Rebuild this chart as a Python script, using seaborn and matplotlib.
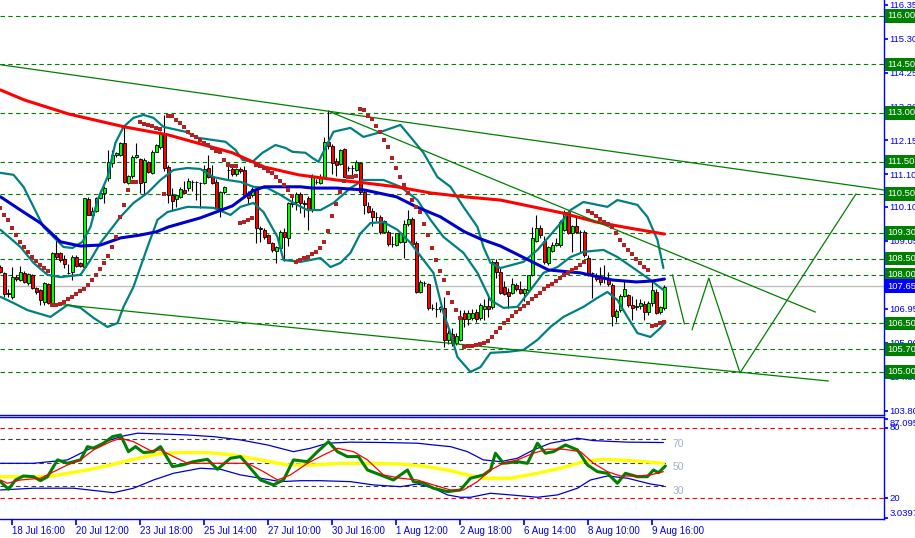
import numpy as np
import matplotlib
matplotlib.use("Agg")
import matplotlib.pyplot as plt
import seaborn as sns
from matplotlib.transforms import blended_transform_factory

# ---------------- price bars (one entry per bar, index = bar number) ----------------
opens = [
    108.25, 108.06, 107.45, 107.33, 107.94, 107.84, 108.06, 107.74, 107.99, 107.58,
    107.53, 107.15, 107.71, 107.12, 108.68, 108.66, 108.48, 108.06, 108.10, 108.54,
    108.37, 108.25, 110.35, 109.85, 109.98, 110.36, 110.52, 110.98, 111.46, 111.70,
    111.70, 112.06, 110.85, 111.05, 111.65, 111.57, 110.88, 111.49, 111.15, 111.80,
    111.96, 112.39, 111.34, 110.46, 110.33, 110.41, 110.62, 110.67, 110.87, 110.87,
    110.83, 110.83, 111.29, 111.01, 110.88, 110.05, 110.57, 111.24, 111.26, 111.11,
    111.26, 111.24, 110.48, 110.46, 110.62, 109.44, 109.40, 109.23, 108.97, 108.74,
    108.82, 109.33, 109.13, 110.26, 110.26, 110.50, 110.23, 110.36, 110.00, 110.87,
    110.85, 111.03, 112.11, 111.98, 111.52, 111.42, 111.88, 111.29, 111.29, 111.24,
    111.44, 110.57, 110.13, 109.97, 109.80, 109.80, 109.33, 109.33, 108.95, 108.92,
    109.02, 109.02, 109.57, 109.72, 108.99, 107.48, 107.74, 107.71, 106.96, 106.94,
    106.94, 106.96, 106.00, 106.16, 105.88, 106.00, 106.81, 106.65, 106.68, 106.86,
    106.68, 106.95, 107.05, 107.00, 108.41, 108.10, 107.63, 107.48, 107.45, 107.68,
    107.55, 107.43, 107.53, 107.99, 109.03, 109.46, 109.05, 108.37, 108.74, 108.92,
    108.92, 109.38, 109.95, 109.30, 109.51, 109.33, 109.33, 108.51, 108.05, 107.99,
    107.89, 107.86, 107.86, 107.68, 106.71, 106.91, 107.34, 107.37, 107.07, 107.02,
    107.04, 107.10, 106.86, 107.12, 107.48, 106.86, 106.96,
]
highs = [
    108.30, 108.10, 107.55, 108.25, 108.00, 108.27, 108.12, 108.05, 108.02, 107.62,
    107.56, 107.79, 107.75, 108.72, 109.23, 108.70, 108.61, 108.35, 108.61, 108.60,
    108.40, 110.38, 110.40, 110.10, 110.40, 110.62, 110.74, 111.86, 111.86, 111.80,
    112.10, 112.58, 111.08, 111.70, 112.06, 111.62, 111.60, 111.52, 111.85, 112.05,
    112.45, 112.94, 111.38, 110.67, 110.50, 110.70, 110.90, 111.00, 110.92, 110.90,
    110.88, 111.40, 111.70, 111.40, 110.95, 110.60, 110.75, 111.40, 111.40, 111.30,
    111.32, 111.37, 110.60, 110.70, 110.68, 109.50, 109.45, 109.26, 109.00, 108.90,
    109.40, 109.45, 110.26, 110.40, 110.55, 110.55, 110.30, 110.45, 111.10, 110.95,
    111.10, 112.25, 113.08, 112.05, 111.60, 111.90, 111.92, 111.35, 111.40, 111.55,
    111.50, 110.62, 110.25, 110.05, 109.95, 109.85, 109.70, 109.38, 109.20, 109.30,
    109.32, 109.70, 110.00, 109.80, 109.05, 107.85, 107.80, 107.75, 107.10, 107.15,
    107.05, 107.30, 106.30, 106.35, 106.20, 106.90, 106.90, 106.90, 106.95, 106.95,
    107.12, 107.25, 107.40, 108.45, 108.50, 108.20, 107.80, 107.60, 107.90, 107.75,
    107.80, 107.60, 108.00, 109.47, 109.84, 109.55, 109.20, 108.90, 109.00, 109.15,
    109.70, 110.00, 110.00, 109.55, 109.80, 109.40, 109.40, 108.60, 108.10, 108.05,
    108.25, 108.30, 108.10, 107.75, 106.95, 107.40, 107.80, 107.42, 107.35, 107.25,
    107.25, 107.20, 107.20, 107.80, 107.55, 107.05, 107.68,
]
lows = [
    108.05, 107.32, 107.30, 107.24, 107.80, 107.80, 107.75, 107.70, 107.55, 107.42,
    107.07, 107.07, 107.10, 107.10, 108.50, 108.40, 108.20, 108.04, 107.84, 108.25,
    108.25, 108.22, 109.85, 109.70, 109.95, 110.33, 110.21, 110.90, 111.34, 111.65,
    111.68, 110.85, 110.80, 111.00, 111.60, 110.52, 110.47, 111.15, 111.10, 111.78,
    111.90, 111.20, 110.21, 110.00, 110.10, 110.38, 110.50, 110.60, 110.60, 110.31,
    110.05, 110.80, 111.00, 110.80, 110.05, 109.80, 110.50, 110.95, 111.05, 111.05,
    111.15, 110.40, 110.20, 110.40, 108.98, 109.00, 109.10, 108.98, 108.70, 108.38,
    108.78, 108.43, 108.90, 110.10, 110.00, 109.90, 109.80, 109.40, 109.95, 110.80,
    110.80, 111.00, 111.90, 111.10, 111.05, 111.38, 111.01, 111.20, 111.05, 111.20,
    110.50, 109.87, 109.90, 109.50, 109.65, 109.25, 109.30, 108.90, 108.85, 108.88,
    108.98, 108.53, 109.50, 108.90, 107.45, 107.45, 107.65, 106.90, 106.90, 106.70,
    106.85, 105.78, 105.85, 105.80, 105.82, 105.95, 106.40, 106.45, 106.60, 106.55,
    106.62, 106.60, 106.70, 106.95, 107.90, 107.40, 107.38, 106.97, 107.40, 107.50,
    107.40, 107.20, 107.50, 107.95, 109.00, 109.15, 108.35, 108.30, 108.70, 108.88,
    108.85, 109.35, 109.25, 108.70, 109.30, 108.72, 108.55, 107.95, 107.27, 107.80,
    107.70, 107.75, 107.65, 106.42, 106.55, 106.85, 107.30, 107.00, 106.60, 106.90,
    106.95, 106.60, 106.75, 107.05, 106.80, 106.80, 106.90,
]
closes = [
    108.10, 107.40, 107.40, 107.94, 107.86, 108.10, 107.79, 108.02, 107.58, 107.48,
    107.22, 107.74, 107.14, 108.68, 108.56, 108.46, 108.35, 108.06, 108.56, 108.28,
    108.28, 110.36, 109.85, 109.98, 110.36, 110.54, 110.67, 111.49, 111.70, 111.77,
    112.06, 110.88, 111.05, 111.65, 111.70, 110.85, 111.55, 111.19, 111.80, 112.01,
    112.39, 111.29, 110.46, 110.29, 110.46, 110.64, 110.54, 110.90, 110.87, 110.86,
    110.83, 111.26, 111.01, 110.85, 110.05, 110.57, 110.70, 111.24, 111.11, 111.26,
    111.20, 110.46, 110.36, 110.64, 109.44, 109.42, 109.16, 108.99, 108.76, 108.87,
    109.31, 109.16, 110.23, 110.18, 110.50, 110.21, 110.18, 110.00, 111.01, 110.87,
    111.03, 112.11, 111.98, 111.44, 111.39, 111.85, 111.01, 111.29, 111.29, 111.49,
    110.57, 110.15, 109.95, 109.80, 109.80, 109.33, 109.66, 108.95, 108.95, 109.28,
    109.28, 109.57, 109.74, 108.95, 107.48, 107.79, 107.74, 106.96, 106.96, 106.94,
    107.00, 106.00, 106.19, 105.90, 106.11, 106.70, 106.65, 106.81, 106.83, 106.65,
    107.07, 107.05, 106.95, 108.41, 108.10, 107.43, 107.40, 107.34, 107.72, 107.55,
    107.43, 107.56, 107.99, 109.13, 109.44, 109.24, 108.41, 108.85, 108.92, 108.97,
    109.64, 109.95, 109.30, 109.51, 109.33, 109.33, 108.61, 108.03, 108.05, 107.86,
    107.79, 107.86, 107.72, 106.73, 106.89, 107.34, 107.56, 107.07, 106.99, 107.05,
    107.14, 106.86, 107.14, 107.53, 106.81, 107.01, 107.63,
]
# parabolic SAR, one dot per bar
sar = [
    110.05, 109.85, 109.69, 109.46, 109.23, 109.02, 108.87, 108.71, 108.56, 108.42,
    108.30, 108.20, 108.12, 107.07, 107.07, 107.10, 107.17, 107.24, 107.32, 107.41,
    107.49, 107.55, 107.68, 107.84, 108.01, 108.17, 108.37, 108.59, 108.87, 109.18,
    109.80, 110.16, 110.62, 110.88, 110.88, 112.73, 112.66, 112.63, 112.60, 112.55,
    112.50, 110.50, 112.92, 112.92, 112.79, 112.68, 112.58, 112.42, 112.32, 112.25,
    112.17, 112.07, 112.01, 111.91, 111.84, 111.78, 111.55, 111.40, 111.36, 111.36,
    109.59, 109.63, 109.70, 109.75, 111.40, 111.36, 111.29, 111.22, 111.16, 111.03,
    110.91, 110.78, 110.62, 110.45, 108.41, 108.46, 108.51, 108.56, 108.64, 108.69,
    108.84, 109.02, 109.35, 109.81, 110.19, 110.57, 110.90, 111.02, 111.02, 111.05,
    113.12, 113.08, 112.91, 112.81, 112.60, 112.42, 112.17, 111.94, 111.60, 111.29,
    111.01, 110.78, 110.52, 110.31, 110.09, 109.95, 109.57, 109.23, 108.82, 108.46,
    108.13, 107.84, 107.45, 107.17, 106.91, 106.66, 105.78, 105.80, 105.81, 105.83,
    105.86, 105.90, 105.97, 106.07, 106.22, 106.36, 106.50, 106.62, 106.74, 106.85,
    106.95, 107.05, 107.14, 107.25, 107.35, 107.45, 107.55, 107.64, 107.73, 107.82,
    107.90, 107.98, 108.06, 108.14, 108.22, 108.30, 108.40, 109.97, 109.90, 109.82,
    109.72, 109.64, 109.56, 109.49, 109.28, 109.08, 108.92, 108.77, 108.65, 108.49,
    108.36, 108.23, 108.15, 106.42, 106.45, 106.50, 106.53,
]

# ---------------- overlays (bar position, price) ----------------
ma_red_x = [0, 6, 17, 31, 42, 58, 66, 74.5, 84, 91, 99, 107.5, 116, 125, 140.5, 149, 157, 166]
ma_red_y = [113.71, 113.40, 112.97, 112.57, 112.32, 111.77, 111.33, 111.09, 110.93, 110.84,
            110.72, 110.53, 110.41, 110.31, 109.91, 109.63, 109.45, 109.26]

ma_blue_x = [0, 5, 10, 15, 20, 25, 30, 35, 39, 42, 50, 58, 63, 66, 75, 78, 84,
             91, 99, 104, 110, 116, 120, 125, 132, 137, 145, 153, 159, 163, 166]
ma_blue_y = [110.41, 110.00, 109.60, 109.02, 108.89, 108.92, 109.14, 109.23, 109.33, 109.48,
             109.76, 110.13, 110.59, 110.72, 110.72, 110.68, 110.68, 110.62, 110.41, 110.10,
             109.79, 109.33, 109.11, 108.89, 108.46, 108.15, 108.06, 107.84, 107.78, 107.81, 107.87]

bb_up_x = [0, 3.25, 5.75, 8.25, 10.75, 13.25, 15.75, 18, 20.5, 22.5,
           24.25, 26.75, 28.75, 30.75, 33.25, 35.75, 38.25, 40.75, 46.25, 49.5,
           56.25, 58.75, 60.5, 63, 65.5, 68.75, 71.25, 73, 76.25, 78,
           79.5, 83.25, 87.5, 90.75, 94.25, 100, 102.5, 105.75, 109.25, 112.5,
           115.75, 119.25, 120.75, 122.5, 125, 130.75, 134.25, 139.25, 142.5, 145.75,
           151.75, 154.25, 159.25, 161.75, 164.25, 165.75]
bb_up_y = [111.15, 111.09, 110.72, 110.10, 109.48, 109.17, 108.86, 108.83, 109.02, 109.48,
           110.31, 111.02, 112.08, 112.57, 112.85, 112.94, 112.85, 112.57, 112.42, 112.23,
           112.11, 111.86, 111.55, 111.49, 111.77, 112.01, 111.92, 111.80, 111.77, 111.61,
           111.49, 112.42, 112.54, 112.26, 112.38, 112.63, 112.26, 111.77, 111.02, 110.72,
           110.10, 109.48, 108.86, 108.37, 108.21, 108.40, 108.77, 109.48, 110.00, 110.25,
           110.10, 110.31, 110.16, 109.79, 109.08, 108.21]

bb_mid_x = [0, 5, 8.25, 11.75, 15, 20, 22.5, 25, 30, 33.25,
            36.75, 40, 43.25, 46.75, 50, 53.25, 56.75, 60, 63.25, 66.75,
            70, 73.25, 76.75, 80, 83.25, 87.5, 90.75, 95.75, 100, 104.25,
            107.5, 110.75, 115.75, 119.25, 122.5, 125.75, 129.25, 132.5, 135.75, 139.25,
            142.5, 145.75, 150.75, 154.25, 158.25, 162.5, 165.75]
bb_mid_y = [109.39, 108.86, 108.37, 108.00, 107.93, 108.00, 108.46, 108.99, 109.79, 110.22,
            110.53, 110.93, 111.24, 111.30, 111.27, 111.02, 110.93, 110.87, 110.72, 110.68,
            110.47, 110.22, 110.00, 110.00, 110.22, 110.68, 110.93, 110.93, 110.72, 110.31,
            109.70, 109.17, 108.68, 108.06, 107.22, 106.98, 107.01, 107.53, 108.06, 108.24,
            108.55, 108.71, 108.77, 108.55, 108.21, 107.84, 107.53]

bb_lo_x = [0, 3.25, 6.75, 12.5, 16.75, 20, 23.25, 26.75, 29.25, 30.75,
           33.25, 36.75, 39.25, 41.75, 46.75, 53.25, 57.5, 60, 63.25, 65.75,
           69.25, 70.75, 75, 80, 82.5, 85, 87.5, 90, 92.5, 95.75,
           99.25, 102.5, 105.75, 108.25, 110.75, 112.5, 114.25, 117.5, 120, 122.5,
           126.75, 130.75, 134.25, 137.5, 140.75, 145.75, 149.25, 151.75, 154.25, 156.75,
           159.25, 162.5, 165, 166.25]
bb_lo_y = [107.32, 107.13, 106.91, 106.70, 107.07, 106.98, 106.67, 106.39, 106.51, 107.01,
           107.63, 108.86, 109.70, 109.94, 110.10, 110.07, 109.85, 110.10, 110.22, 109.94,
           109.17, 108.46, 108.40, 108.52, 108.24, 108.37, 108.68, 109.28, 109.60, 109.63,
           109.39, 108.99, 108.46, 108.06, 106.82, 106.20, 105.46, 105.00, 105.15, 105.59,
           105.62, 105.68, 105.99, 106.39, 106.70, 107.01, 107.29, 107.47, 107.22, 106.70,
           106.20, 106.08, 106.36, 106.54]

# hand drawn trend lines and projection
trend_top_x, trend_top_y = [0, 221], [114.49, 110.62]
trend_mid_x, trend_mid_y = [82.5, 203.75], [113.03, 106.85]
trend_low_x, trend_low_y = [13.75, 207], [107.10, 104.72]
proj_a_x, proj_a_y = [168, 171], [108.00, 106.48]
proj_b_x, proj_b_y = [172.9, 177.1, 184.9, 213.9], [106.30, 107.90, 104.97, 110.50]

levels = [116.00, 114.50, 113.00, 111.50, 110.50, 109.30, 108.50, 108.00, 106.50, 105.70, 105.00]
last_price = 107.65
price_ticks = [116.35, 115.30, 114.25, 113.20, 112.15, 111.10, 110.10, 109.05,
               106.95, 105.90, 104.85, 103.80]

# ---------------- oscillator panel ----------------
osc_x = [0, 2, 3.75, 5.75, 8.25, 10, 11.75, 14.25, 16.75, 20,
         21.75, 23.25, 25.75, 28, 30, 32, 33.75, 35.75, 38.25, 40,
         43, 45.5, 48.25, 51.75, 54.25, 57.5, 60, 62.5, 65, 68.25,
         70.75, 73.25, 76.75, 79.25, 82, 84.25, 86.75, 89.5, 91.75, 95,
         98.25, 101.75, 103.25, 105.75, 108.25, 111.75, 115, 117.5, 120.75, 122.5,
         123.75, 125.75, 129.25, 131.75, 134.25, 136.25, 138.25, 141.25, 144.25, 146.75,
         149.25, 151.75, 154.25, 156.25, 159.25, 161.75, 163.25, 164.5, 166.25]
osc_y = [34.1, 27.6, 35.5, 38.9, 38.3, 34.9, 38.3, 52.6, 49.7, 52.6,
         63.9, 62.5, 66.8, 72.4, 73.8, 59.6, 63.9, 58.8, 59.6, 63.9,
         46.9, 48.3, 51.1, 53.1, 44.6, 54.0, 55.4, 45.5, 35.5, 31.3,
         35.5, 52.6, 51.1, 59.6, 68.1, 59.6, 55.4, 55.4, 44.0, 39.8,
         35.5, 44.0, 34.1, 32.7, 28.5, 25.6, 27.0, 37.0, 39.8, 44.0,
         58.3, 49.7, 51.1, 49.7, 66.8, 58.3, 59.6, 65.3, 61.1, 48.3,
         42.6, 41.2, 32.7, 41.2, 38.3, 38.3, 44.0, 41.7, 47.4]

sig_x = [0, 1.75, 5, 10, 12.5, 16.75, 20, 23.25, 27.5, 30,
         33.25, 37.5, 40, 43.25, 46.75, 51.75, 56.75, 61.75, 65.75, 69.25,
         72.5, 76.75, 80.75, 84.25, 88.25, 91.75, 95.75, 100, 104.25, 108.25,
         112.5, 115.75, 119.25, 122.5, 125.75, 129.25, 133.25, 136.75, 140.75, 145,
         148.25, 151.75, 155, 159.25, 162.5, 165.75]
sig_y = [35.5, 32.7, 35.5, 37.0, 41.2, 48.3, 52.6, 61.1, 68.1, 71.0,
         68.1, 60.5, 61.1, 55.4, 49.7, 49.7, 49.7, 49.7, 42.6, 35.5,
         39.8, 49.7, 56.8, 62.5, 59.6, 52.6, 39.8, 37.0, 35.5, 31.3,
         27.0, 27.0, 34.1, 44.0, 49.7, 52.6, 58.3, 61.7, 61.7, 59.6,
         49.7, 42.6, 38.9, 38.9, 39.8, 42.6]

slow_x = [0, 5, 11.75, 16.75, 21.75, 27.5, 33.25, 39.25, 45, 51.75,
          58.25, 65, 71.75, 78.25, 85, 91.75, 100, 105.75, 111.75, 116.75,
          120.75, 127.5, 134.25, 140, 145.75, 150.75, 157.5, 165.75]
slow_y = [38.3, 38.3, 38.3, 41.2, 44.0, 48.3, 53.1, 57.6, 58.8, 58.8,
          56.8, 52.6, 48.3, 48.3, 49.7, 49.7, 49.1, 47.4, 44.0, 39.8,
          37.0, 37.0, 41.2, 45.5, 51.1, 53.1, 52.0, 49.7]

band_up_x = [0, 8.25, 16.75, 21.75, 27.5, 30.75, 34.25, 40, 46.75, 53.25,
             60, 66.75, 73.25, 77.5, 81.75, 87.5, 95.75, 104.25, 108.25, 112.5,
             116.75, 120.75, 125, 129.25, 133.25, 137.5, 144.25, 148.25, 156.75, 165.75]
band_up_y = [49.7, 49.7, 52.6, 61.1, 69.6, 73.0, 75.3, 74.7, 73.8, 72.4,
             69.6, 65.3, 59.6, 62.5, 66.8, 67.7, 67.4, 66.8, 65.3, 63.9,
             59.6, 52.6, 51.1, 54.0, 61.1, 66.8, 71.0, 69.0, 67.7, 67.4]
band_lo_x = [0, 8.25, 18.25, 28.25, 33.25, 38.25, 43.25, 50, 55, 60,
             65, 70, 75, 80, 87.5, 93.25, 100, 104.25, 108.25, 111.75,
             115, 117.5, 122.5, 127.5, 134.25, 139.25, 144.25, 147.5, 151.75, 156.75,
             162.5, 165.75]
band_lo_y = [27.0, 28.5, 28.5, 24.7, 28.5, 35.5, 41.2, 45.5, 44.6, 39.8,
             37.0, 34.1, 34.9, 34.9, 34.1, 31.3, 29.8, 32.1, 28.5, 22.8,
             20.8, 20.8, 24.2, 22.8, 20.8, 22.8, 28.5, 35.5, 38.9, 37.0,
             32.1, 30.4]

osc_levels = [70, 50, 30]
osc_limits = [80, 20]
osc_ticks = [3.0397, 20, 80, 87.095]
osc_tick_labels = ["3.0397", "20", "80", "87.095"]

time_ticks = [3, 19, 35, 51, 67, 83, 99, 115, 131, 147, 163]
time_labels = ["18 Jul 16:00", "20 Jul 12:00", "23 Jul 18:00", "25 Jul 14:00",
               "27 Jul 10:00", "30 Jul 16:00", "1 Aug 12:00", "2 Aug 18:00",
               "6 Aug 14:00", "8 Aug 10:00", "9 Aug 16:00"]


def main():
    sns.set_theme(style="white")
    plt.rcParams["font.family"] = ["Liberation Sans", "DejaVu Sans"]

    W, H = 915, 538
    fig = plt.figure(figsize=(W / 100, H / 100), dpi=100)
    fig.patch.set_facecolor("white")
    ax = fig.add_axes([0.0, 1 - 415 / H, 884 / W, 415 / H])
    ax_osc = fig.add_axes([0.0, 1 - 519 / H, 884 / W, 102 / H])
    xlim = (-0.125, 220.9)
    axis_font = 6.8

    # --- main price panel ---
    for lv in levels:
        ax.axhline(lv, color="#008000", lw=0.8, ls=(0, (4, 3)), zorder=1)
    ax.axhline(last_price, color="#C0C0C0", lw=1, zorder=1)

    bars = np.arange(len(closes))
    o, h, l, c = map(np.array, (opens, highs, lows, closes))
    ax.vlines(bars, l, h, color="black", lw=0.8, zorder=2)
    body_colors = np.where(c >= o, "#00FF00", "#FF0000")
    ax.bar(bars, c - o, bottom=o, width=0.8, color=body_colors,
           edgecolor="black", linewidth=0.6, zorder=3)

    line_kw = dict(ax=ax, sort=False, estimator=None, legend=False)
    for xs, ys in [(bb_up_x, bb_up_y), (bb_mid_x, bb_mid_y), (bb_lo_x, bb_lo_y)]:
        sns.lineplot(x=xs, y=ys, color="#008080", linewidth=1.6, zorder=4, **line_kw)
    sns.lineplot(x=ma_blue_x, y=ma_blue_y, color="#0000CC", linewidth=2.2, zorder=4, **line_kw)
    sns.lineplot(x=ma_red_x, y=ma_red_y, color="#FF0000", linewidth=2.2, zorder=4, **line_kw)

    sns.scatterplot(x=bars, y=sar, ax=ax, marker="s", s=8, color="#B22222",
                    linewidth=0, zorder=5, legend=False)

    for xs, ys in [(trend_top_x, trend_top_y), (trend_mid_x, trend_mid_y),
                   (trend_low_x, trend_low_y), (proj_a_x, proj_a_y), (proj_b_x, proj_b_y)]:
        ax.plot(xs, ys, color="#008000", lw=0.9, zorder=4)

    ax.set_xlim(*xlim)
    ax.set_ylim(103.67, 116.49)
    ax.set_facecolor("white")
    ax.yaxis.tick_right()
    ax.set_yticks(price_ticks)
    ax.set_yticklabels([f"{v:.2f}" for v in price_ticks])
    ax.tick_params(axis="y", right=True, left=False, colors="blue", labelsize=axis_font,
                   length=3, pad=1, direction="out")
    ax.tick_params(axis="x", bottom=False, labelbottom=False)
    ax.set_xlabel("")
    ax.set_ylabel("")
    for side in ["left", "top"]:
        ax.spines[side].set_visible(False)
    for side in ["right", "bottom"]:
        ax.spines[side].set_color("blue")
        ax.spines[side].set_linewidth(1)

    tr = blended_transform_factory(ax.transAxes, ax.transData)
    box_x = 1 + 3 / 884
    for lv in levels:
        ax.text(box_x, lv, f"{lv:.2f}", transform=tr, color="white", fontsize=axis_font,
                va="center", ha="left", clip_on=False, zorder=10,
                bbox=dict(boxstyle="square,pad=0.24", fc="#008000", ec="none"))
    ax.text(box_x, last_price, f"{last_price:.2f}", transform=tr, color="white",
            fontsize=axis_font, va="center", ha="left", clip_on=False, zorder=10,
            bbox=dict(boxstyle="square,pad=0.24", fc="#0000FF", ec="none"))

    # --- oscillator panel ---
    for lv in osc_limits:
        ax_osc.axhline(lv, color="#FF0000", lw=0.8, ls=(0, (4, 3)), zorder=1)
    ax_osc.hlines(osc_levels, xlim[0], 166.5, colors="#404040", lw=0.8,
                  linestyles=(0, (4, 3)), zorder=1)

    osc_kw = dict(ax=ax_osc, sort=False, estimator=None, legend=False)
    sns.lineplot(x=band_up_x, y=band_up_y, color="#0000CC", linewidth=0.9, zorder=3, **osc_kw)
    sns.lineplot(x=band_lo_x, y=band_lo_y, color="#0000CC", linewidth=0.9, zorder=3, **osc_kw)
    sns.lineplot(x=slow_x, y=slow_y, color="#FFFF00", linewidth=2.4, zorder=2, **osc_kw)
    sns.lineplot(x=osc_x, y=osc_y, color="#008000", linewidth=2.2, zorder=4, **osc_kw)
    sns.lineplot(x=sig_x, y=sig_y, color="#FF0000", linewidth=0.9, zorder=5, **osc_kw)

    for lv in osc_levels:
        ax_osc.text(168, lv + 0.5, str(lv), color="#A3B3C3", fontsize=7.5, va="top", ha="left")

    ax_osc.set_xlim(*xlim)
    ax_osc.set_ylim(2.3, 89.1)
    ax_osc.set_facecolor("white")
    ax_osc.yaxis.tick_right()
    ax_osc.set_yticks(osc_ticks)
    ax_osc.set_yticklabels(osc_tick_labels)
    ax_osc.tick_params(axis="y", right=True, left=False, colors="blue", labelsize=axis_font,
                       length=3, pad=1, direction="out")
    for t, va in zip(ax_osc.get_yticklabels(), ["bottom", "center", "center", "top"]):
        t.set_va(va)
    ax_osc.set_xticks(time_ticks)
    ax_osc.set_xticklabels(time_labels)
    ax_osc.tick_params(axis="x", bottom=True, colors="blue", labelsize=7,
                       length=4, pad=1, direction="out")
    for t in ax_osc.get_xticklabels():
        t.set_ha("left")
    ax_osc.set_xlabel("")
    ax_osc.set_ylabel("")
    ax_osc.spines["left"].set_visible(False)
    for side in ["right", "bottom", "top"]:
        ax_osc.spines[side].set_color("blue")
        ax_osc.spines[side].set_linewidth(1)

    fig.savefig("out.png", dpi=100, facecolor="white")


if __name__ == "__main__":
    main()
